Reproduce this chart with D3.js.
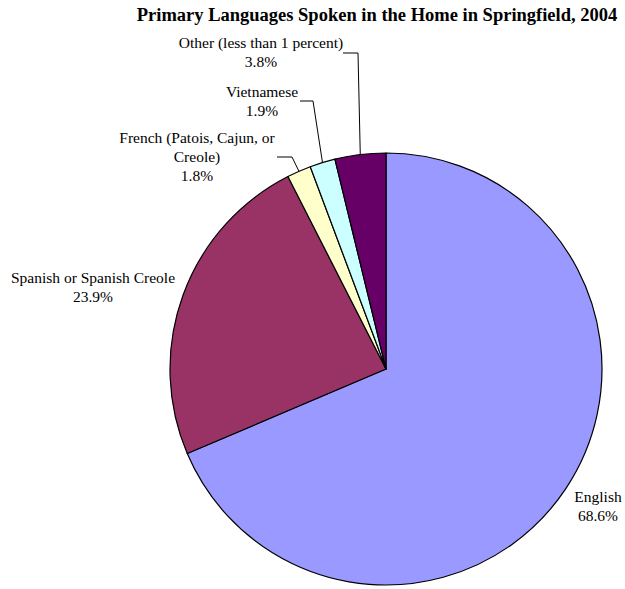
<!DOCTYPE html>
<html>
<head>
<meta charset="utf-8">
<script src="https://cdn.jsdelivr.net/npm/d3@7"></script>
<style>
body { margin: 0; background: #fff; }
text { font-family: "Liberation Serif", "Times New Roman", serif; fill: #000; }
</style>
</head>
<body>
<div class="holder"></div>
<script>
var categories = ['English', 'Spanish or Spanish Creole', 'French (Patois, Cajun, or Creole)', 'Vietnamese', 'Other (less than 1 percent)']
var values = [68.6, 23.9, 1.8, 1.9, 3.8]
var labelLines = [
  ['English', '68.6%'],
  ['Spanish or Spanish Creole', '23.9%'],
  ['French (Patois, Cajun, or', 'Creole)', '1.8%'],
  ['Vietnamese', '1.9%'],
  ['Other (less than 1 percent)', '3.8%']
]
var colors = ['#9999ff', '#993366', '#ffffcc', '#ccffff', '#660066']

// label layout: text centre, first baseline, optional leader elbow
var layout = [
  { x: 598, y: 502 },
  { x: 93, y: 283 },
  { x: 197, y: 143, lx: 277, ly: 157, ex: 292 },
  { x: 262, y: 97, lx: 300, ly: 101, ex: 313 },
  { x: 261, y: 48, lx: 343, ly: 53, ex: 358 }
]

var width = 625, height = 589
var cx = 386, cy = 369, radius = 216

var svg = d3.select('.holder')
  .append('svg')
  .attr('width', width)
  .attr('height', height)

svg.append('text')
  .attr('x', 377)
  .attr('y', 21)
  .attr('text-anchor', 'middle')
  .style('font-size', '18.5px')
  .style('font-weight', 'bold')
  .text('Primary Languages Spoken in the Home in Springfield, 2004')

var data = values.map(function(v, i) { return { name: categories[i], value: v, i: i } })

var pie = d3.pie()
  .sort(null)
  .value(function(d) { return d.value })

var arc = d3.arc()
  .innerRadius(0)
  .outerRadius(radius)

var g = svg.append('g')
  .attr('transform', 'translate(' + cx + ',' + cy + ')')

var arcs = pie(data)

g.selectAll('path')
  .data(arcs)
  .enter()
  .append('path')
  .attr('d', arc)
  .attr('fill', function(d) { return colors[d.data.i] })
  .attr('stroke', '#000')
  .attr('stroke-width', 1.2)
  .attr('stroke-linejoin', 'round')

// leader lines
arcs.forEach(function(d) {
  var L = layout[d.data.i]
  if (L.lx === undefined) return
  var a = (d.startAngle + d.endAngle) / 2
  var px = cx + radius * Math.sin(a)
  var py = cy - radius * Math.cos(a)
  svg.append('polyline')
    .attr('points', [[L.lx, L.ly], [L.ex, L.ly], [px, py]].map(function(p) { return p.join(',') }).join(' '))
    .attr('fill', 'none')
    .attr('stroke', '#000')
    .attr('stroke-width', 1)
})

arcs.forEach(function(d) {
  var L = layout[d.data.i]
  var t = svg.append('text')
    .attr('text-anchor', 'middle')
    .style('font-size', '15.5px')
  labelLines[d.data.i].forEach(function(line, k) {
    t.append('tspan')
      .attr('x', L.x)
      .attr('y', L.y + k * 19)
      .text(line)
  })
})
</script>
</body>
</html>
